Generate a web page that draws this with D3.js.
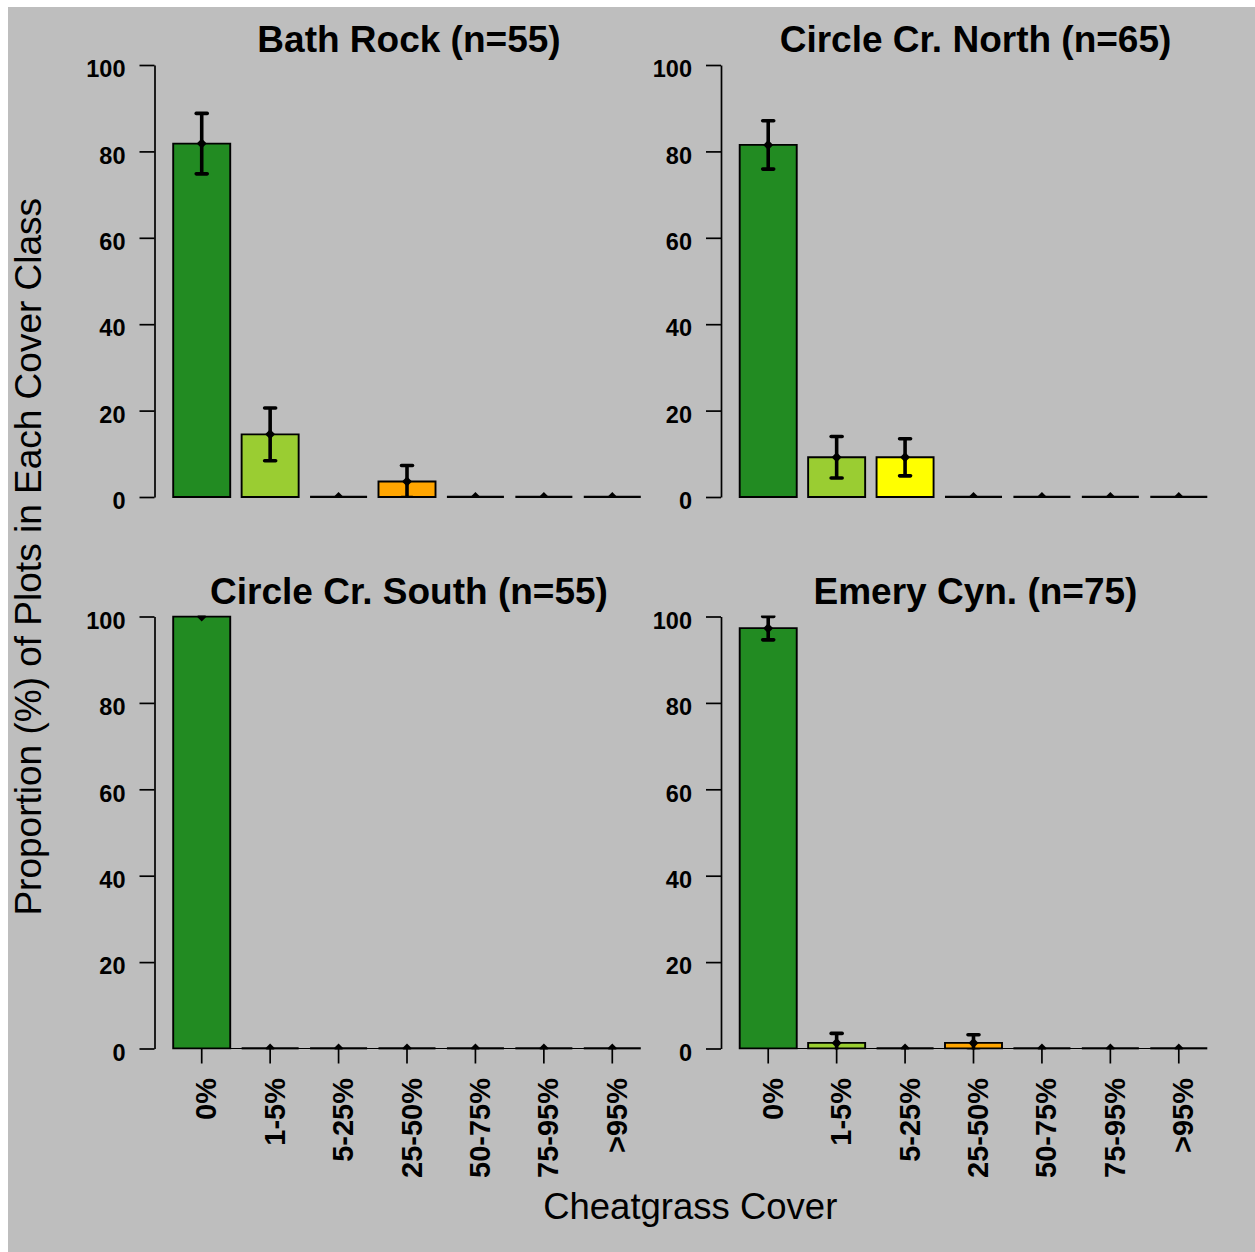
<!DOCTYPE html>
<html>
<head>
<meta charset="utf-8">
<script src="https://cdn.jsdelivr.net/npm/d3@7"></script>
<style>
  body { margin: 0; background: #fff; }
  svg { display: block; font-family: "Liberation Sans", Arial, sans-serif; }
</style>
</head>
<body>
<script>
// cover classes on the x axis
const coverClasses = ['0%', '1-5%', '5-25%', '25-50%', '50-75%', '75-95%', '>95%']
const classColors = ['#228B22', '#9ACD32', '#FFFF00', '#FFA500', '#FF4500', '#FF0000', '#8B0000']

const siteNames = ['Bath Rock', 'Circle Cr. North', 'Circle Cr. South', 'Emery Cyn.']
const siteN = [55, 65, 55, 75]

// proportion of plots (%) per cover class, and the error half-widths
const bathRock = [81.8, 14.5, 0, 3.6, 0, 0, 0]
const bathRockErr = [7.0, 6.1, 0, 3.7, 0, 0, 0]
const circleNorth = [81.5, 9.2, 9.2, 0, 0, 0, 0]
const circleNorthErr = [5.6, 4.8, 4.3, 0, 0, 0, 0]
const circleSouth = [100, 0, 0, 0, 0, 0, 0]
const circleSouthErr = [0, 0, 0, 0, 0, 0, 0]
const emery = [97.3, 1.3, 0, 1.3, 0, 0, 0]
const emeryErr = [2.7, 2.2, 0, 1.9, 0, 0, 0]

const siteValues = [bathRock, circleNorth, circleSouth, emery]
const siteErrors = [bathRockErr, circleNorthErr, circleSouthErr, emeryErr]
const yTicks = [0, 20, 40, 60, 80, 100]

const W = 1255, H = 1252
const svg = d3.select('body').append('svg')
    .attr('width', W)
    .attr('height', H)

svg.append('rect')
    .attr('x', 8).attr('y', 7)
    .attr('width', W - 8).attr('height', H - 7)
    .attr('fill', '#bebebe')

const color = d3.scaleOrdinal().domain(coverClasses).range(classColors)

// plot regions: [left, right] x and [top, bottom] y
const cols = [[154.5, 659.5], [721, 1226]]
const rows = [[65, 497], [616.5, 1048.5]]

function panel(i){
    const col = cols[i % 2], row = rows[Math.floor(i / 2)]
    const vals = siteValues[i], errs = siteErrors[i]
    const isBottom = i >= 2

    const x = d3.scaleBand()
        .domain(coverClasses)
        .range(col)
        .paddingInner(0.2 / 1.2)
        .paddingOuter(0.328 / 1.2)
    const y = d3.scaleLinear().domain([0, 100]).range([row[1], row[0]])

    const g = svg.append('g')

    g.append('clipPath')
        .attr('id', 'clip' + i)
        .append('rect')
        .attr('x', col[0]).attr('y', row[0] - 1)
        .attr('width', col[1] - col[0]).attr('height', row[1] - row[0] + 2)

    // title
    g.append('text')
        .attr('x', (col[0] + col[1]) / 2 + 2)
        .attr('y', row[0] - 13)
        .attr('text-anchor', 'middle')
        .attr('font-size', '37px')
        .attr('font-weight', 'bold')
        .text(`${siteNames[i]} (n=${siteN[i]})`)

    // y axis
    const yAxis = g.append('g')
        .attr('transform', `translate(${col[0]},0)`)
        .call(d3.axisLeft(y).tickValues(yTicks).tickSize(15).tickSizeOuter(0).tickPadding(14))
    yAxis.select('.domain').attr('stroke-width', 1.7)
    yAxis.selectAll('.tick line').attr('stroke-width', 1.7)
    yAxis.selectAll('.tick text')
        .attr('dy', '0.5em')
        .attr('font-size', '23.5px')
        .attr('font-weight', 'bold')
        .attr('font-family', '"Liberation Sans", Arial, sans-serif')
        .attr('fill', '#000')

    const data = coverClasses.map((c, k) => ({cls: c, v: vals[k], e: errs[k]}))
    const plot = g.append('g').attr('clip-path', `url(#clip${i})`)

    // bars (paths so zero-height bars still draw their outline)
    plot.selectAll('path.bar')
        .data(data)
        .enter()
        .append('path')
        .attr('class', 'bar')
        .attr('d', d => {
            const x0 = x(d.cls), x1 = x0 + x.bandwidth()
            return `M${x0},${y(0)}H${x1}V${y(d.v)}H${x0}Z`
        })
        .attr('fill', d => color(d.cls))
        .attr('stroke', '#000')
        .attr('stroke-width', d => d.v == 0 ? 2.4 : 1.9)

    const cx = d => x(d.cls) + x.bandwidth() / 2
    const withErr = data.filter(d => d.e > 0)

    plot.selectAll('line.err')
        .data(withErr)
        .enter()
        .append('line')
        .attr('x1', cx).attr('x2', cx)
        .attr('y1', d => y(d.v - d.e)).attr('y2', d => y(d.v + d.e))
        .attr('stroke', '#000')
        .attr('stroke-width', 3.6)

    const caps = []
    withErr.forEach(d => { caps.push({d: d, val: d.v - d.e}); caps.push({d: d, val: d.v + d.e}) })
    plot.selectAll('line.cap')
        .data(caps)
        .enter()
        .append('line')
        .attr('x1', c => cx(c.d) - 5.5).attr('x2', c => cx(c.d) + 5.5)
        .attr('y1', c => y(c.val)).attr('y2', c => y(c.val))
        .attr('stroke', '#000')
        .attr('stroke-width', 3.6)
        .attr('stroke-linecap', 'round')

    plot.selectAll('path.pt')
        .data(data)
        .enter()
        .append('path')
        .attr('d', d => {
            const px = cx(d), py = y(d.v), r = 5
            return `M${px},${py - r}L${px + r},${py}L${px},${py + r}L${px - r},${py}Z`
        })
        .attr('fill', '#000')

    if(isBottom){
        const xAxis = g.append('g')
            .attr('transform', `translate(0,${row[1]})`)
            .call(d3.axisBottom(x).tickSize(15).tickSizeOuter(0))
        xAxis.select('.domain').remove()
        xAxis.selectAll('.tick line').attr('stroke-width', 1.7)
        xAxis.selectAll('.tick text')
            .attr('transform', 'rotate(-90)')
            .attr('text-anchor', 'end')
            .attr('x', -29.5)
            .attr('y', 0)
            .attr('dy', '0.5em')
            .attr('font-size', '29px')
            .attr('font-weight', 'bold')
            .attr('font-family', '"Liberation Sans", Arial, sans-serif')
            .attr('fill', '#000')
        const first = x(coverClasses[0]) + x.bandwidth() / 2
        const last = x(coverClasses[coverClasses.length - 1]) + x.bandwidth() / 2
        g.append('line')
            .attr('x1', first).attr('x2', last)
            .attr('y1', row[1]).attr('y2', row[1])
            .attr('stroke', '#000')
            .attr('stroke-width', 1.2)
    }
}

siteNames.forEach((s, i) => panel(i))

// shared axis titles
svg.append('text')
    .attr('transform', `translate(41,${(rows[0][0] + rows[1][1]) / 2}) rotate(-90)`)
    .attr('text-anchor', 'middle')
    .attr('font-size', '37px')
    .text('Proportion (%) of Plots in Each Cover Class')

svg.append('text')
    .attr('x', (cols[0][0] + cols[1][1]) / 2)
    .attr('y', 1219)
    .attr('text-anchor', 'middle')
    .attr('font-size', '36.5px')
    .text('Cheatgrass Cover')
</script>
</body>
</html>
